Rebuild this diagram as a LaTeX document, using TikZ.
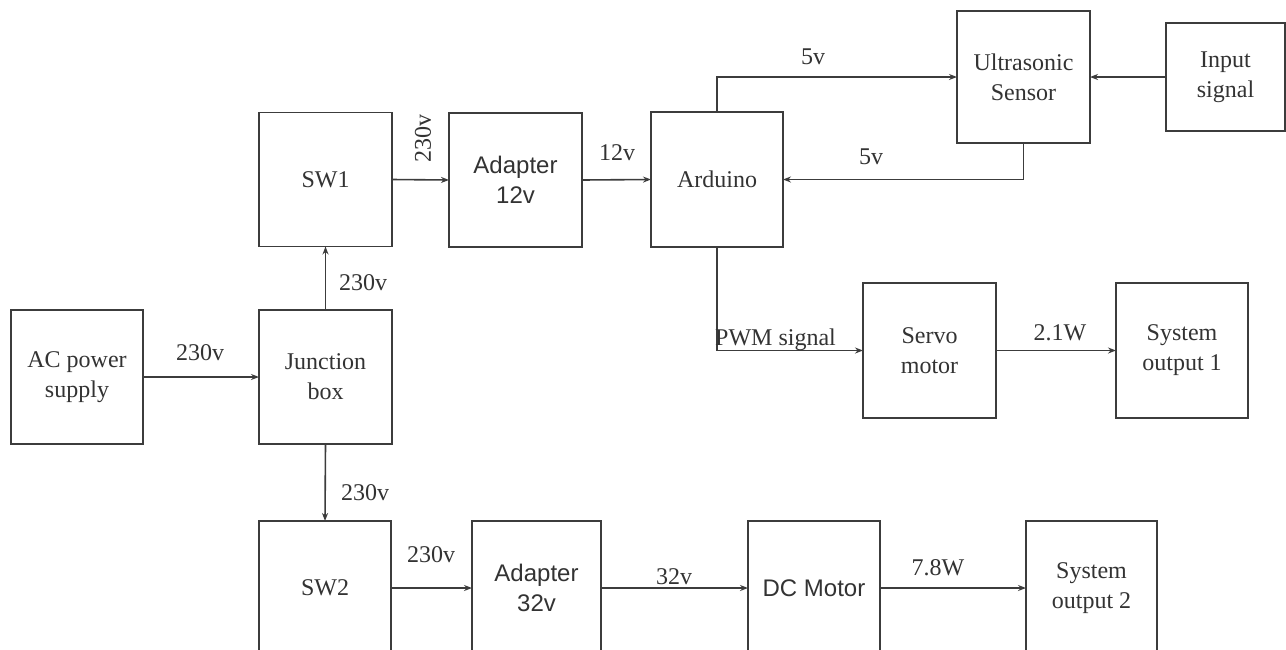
\documentclass[tikz,border=0pt]{standalone}
\usepackage{fontspec}
\setmainfont{Liberation Serif}
\newfontfamily\arialf{Liberation Sans}
\usetikzlibrary{arrows.meta}
\definecolor{ink}{RGB}{60,60,60}
\definecolor{txt}{RGB}{51,51,51}
\tikzset{
  box/.style={draw=ink, line width=1.8pt, inner sep=0pt, outer sep=0pt, align=center,
    text=txt, font=\fontsize{24}{30}\selectfont},
  sbox/.style={box, font=\arialf\fontsize{24}{30}\selectfont},
  conn/.style={draw=ink, line width=1.6pt, -{Stealth[length=8pt,width=6pt]}},
  lbl/.style={text=txt, inner sep=0pt, font=\fontsize{24}{28}\selectfont},
}
\begin{document}
\begin{tikzpicture}[x=1pt,y=-1pt]
\useasboundingbox (0,0) rectangle (1286,649);
\clip (0,0) rectangle (1286,649);
\fill[white] (0,0) rectangle (1286,649);
% boxes
\node[box, minimum width=132pt, minimum height=134pt] (ac) at (77,377) {AC power\\supply};
\node[box, minimum width=133pt, minimum height=134pt] (jb) at (325.5,377) {Junction\\box};
\node[box, minimum width=133pt, minimum height=134pt] (sw1) at (325.5,179.5) {SW1};
\node[sbox, minimum width=133pt, minimum height=134pt] (ad12) at (515.5,180) {Adapter\\12v};
\node[box, minimum width=132pt, minimum height=135pt] (ard) at (717,179.5) {Arduino};
\node[box, minimum width=133pt, minimum height=132pt] (us) at (1023.5,77) {Ultrasonic\\Sensor};
\node[box, minimum width=119pt, minimum height=108pt] (in) at (1225.5,77) {Input\\signal};
\node[box, minimum width=133pt, minimum height=135pt] (servo) at (929.5,350.5) {Servo\\motor};
\node[box, minimum width=132pt, minimum height=135pt] (so1) at (1182,350.5) {System\\output 1};
\node[box, minimum width=132pt, minimum height=134pt] (sw2) at (325,588) {SW2};
\node[sbox, minimum width=129pt, minimum height=134pt] (ad32) at (536.5,588) {Adapter\\32v};
\node[sbox, minimum width=132pt, minimum height=134pt] (dc) at (814,588) {DC Motor};
\node[box, minimum width=131pt, minimum height=134pt] (so2) at (1091.5,588) {System\\output 2};
% connectors
\draw[conn] (ac.east) -- (jb.west);
\draw[conn] (jb.north) -- (sw1.south);
\draw[conn] (jb.south) -- (sw2.north);
\draw[conn] (sw1.east) -- (ad12.west);
\draw[conn] (ad12.east) -- (ard.west);
\draw[conn] (ard.north) |- (us.west);
\draw[conn] (in.west) -- (us.east);
\draw[conn] (us.south) |- (ard.east);
\draw[conn] (ard.south) |- (servo.west);
\draw[conn] (servo.east) -- (so1.west);
\draw[conn] (sw2.east) -- (ad32.west);
\draw[conn] (ad32.east) -- (dc.west);
\draw[conn] (dc.east) -- (so2.west);
% labels
\node[lbl] (l1) at (200,353) {230v};
\node[lbl] (l2) at (363,283) {230v};
\node[lbl] (l3) at (365,493) {230v};
\node[lbl, rotate=90] (l4) at (423,138) {230v};
\node[lbl] (l5) at (617,153) {12v};
\node[lbl] (l6) at (813,57) {5v};
\node[lbl] (l7) at (871,157) {5v};
\node[lbl, anchor=west] (l8) at (715,340) {PWM signal};
\node[lbl] (l9) at (1060,333) {2.1W};
\node[lbl] (l10) at (431,555) {230v};
\node[lbl] (l11) at (674,577) {32v};
\node[lbl] (l12) at (938,568) {7.8W};
\end{tikzpicture}
\end{document}
